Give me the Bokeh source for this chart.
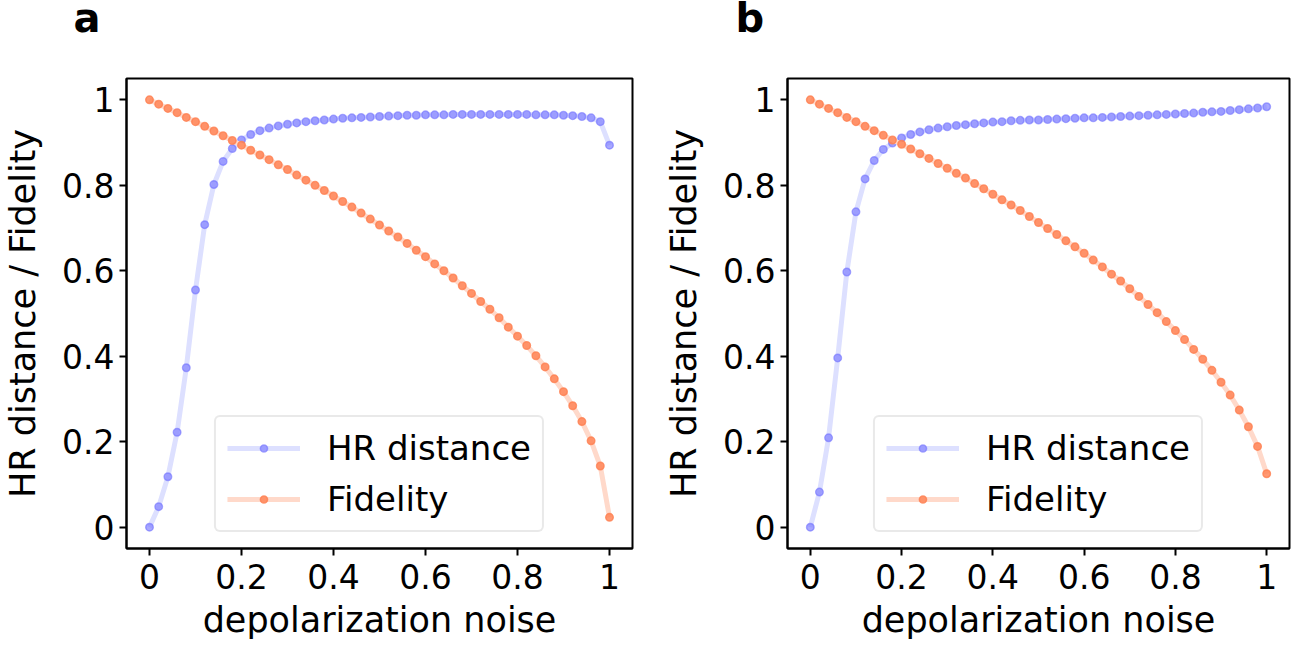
from bokeh.plotting import figure
from bokeh.layouts import row, column
from bokeh.models import FixedTicker, Legend, LegendItem, Range1d
from bokeh.core.properties import value
from bokeh.embed import file_html
from bokeh.resources import INLINE

noise = [0.00, 0.02, 0.04, 0.06, 0.08, 0.10, 0.12, 0.14, 0.16, 0.18,
         0.20, 0.22, 0.24, 0.26, 0.28, 0.30, 0.32, 0.34, 0.36, 0.38,
         0.40, 0.42, 0.44, 0.46, 0.48, 0.50, 0.52, 0.54, 0.56, 0.58,
         0.60, 0.62, 0.64, 0.66, 0.68, 0.70, 0.72, 0.74, 0.76, 0.78,
         0.80, 0.82, 0.84, 0.86, 0.88, 0.90, 0.92, 0.94, 0.96, 0.98, 1.00]

hr_a = [0.000, 0.048, 0.118, 0.222, 0.373, 0.555, 0.708, 0.802, 0.856, 0.886,
        0.906, 0.919, 0.928, 0.934, 0.939, 0.943, 0.946, 0.949, 0.951, 0.953,
        0.955, 0.957, 0.958, 0.959, 0.960, 0.961, 0.962, 0.963, 0.964, 0.964,
        0.965, 0.965, 0.965, 0.966, 0.966, 0.966, 0.966, 0.966, 0.966, 0.966,
        0.966, 0.966, 0.965, 0.965, 0.965, 0.964, 0.963, 0.961, 0.958, 0.949, 0.894]

fid_a = [1.000, 0.990, 0.980, 0.970, 0.959, 0.949, 0.938, 0.927, 0.916, 0.905,
         0.894, 0.882, 0.871, 0.860, 0.848, 0.837, 0.824, 0.812, 0.800, 0.788,
         0.775, 0.762, 0.749, 0.735, 0.721, 0.707, 0.693, 0.679, 0.664, 0.648,
         0.633, 0.616, 0.600, 0.583, 0.565, 0.547, 0.528, 0.510, 0.490, 0.468,
         0.447, 0.425, 0.401, 0.375, 0.347, 0.317, 0.284, 0.247, 0.202, 0.143, 0.023]

hr_b = [0.000, 0.082, 0.209, 0.396, 0.597, 0.738, 0.815, 0.858, 0.884, 0.899,
        0.911, 0.919, 0.925, 0.930, 0.934, 0.937, 0.940, 0.942, 0.944, 0.946,
        0.948, 0.949, 0.951, 0.952, 0.953, 0.953, 0.954, 0.955, 0.956, 0.957,
        0.958, 0.958, 0.959, 0.960, 0.961, 0.962, 0.963, 0.964, 0.965, 0.966,
        0.967, 0.968, 0.969, 0.971, 0.972, 0.973, 0.975, 0.977, 0.979, 0.981, 0.984]

fid_b = [1.000, 0.990, 0.980, 0.970, 0.959, 0.949, 0.938, 0.928, 0.917, 0.906,
         0.896, 0.885, 0.874, 0.863, 0.851, 0.840, 0.828, 0.817, 0.804, 0.792,
         0.779, 0.766, 0.754, 0.741, 0.727, 0.713, 0.699, 0.685, 0.670, 0.656,
         0.641, 0.625, 0.609, 0.592, 0.576, 0.558, 0.540, 0.521, 0.502, 0.481,
         0.460, 0.439, 0.416, 0.393, 0.367, 0.339, 0.309, 0.274, 0.235, 0.189, 0.125]

tick_values = [0, 0.2, 0.4, 0.6, 0.8, 1]
tick_labels = ["0", "0.2", "0.4", "0.6", "0.8", "1"]
series_names = ["HR distance", "Fidelity"]
panel_labels = ["a", "b"]
x_title = "depolarization noise"
y_title = "HR distance / Fidelity"

FONT = "DejaVu Sans"
TOP_H = 77


def make_letter(letter, width, lx):
    t = figure(width=width, height=TOP_H, output_backend="svg", toolbar_location=None,
               x_range=Range1d(0, width), y_range=Range1d(0, TOP_H),
               x_axis_type=None, y_axis_type=None, min_border=0)
    t.grid.visible = False
    t.outline_line_color = None
    t.background_fill_color = "white"
    t.border_fill_color = "white"
    t.text(x=[lx], y=[TOP_H - 17], text=[letter], text_font=value(FONT),
           text_font_size=value("40px"), text_font_style="bold", text_color="black",
           text_baseline="alphabetic", text_align="left")
    return t


def make_panel(hr, fid, width, left, right):
    p = figure(width=width, height=647 - TOP_H, output_backend="svg", toolbar_location=None,
               x_range=Range1d(-0.05, 1.05), y_range=Range1d(-0.05, 1.05),
               min_border_left=left, min_border_right=right,
               min_border_top=1, min_border_bottom=99)
    p.grid.visible = False
    p.background_fill_color = "white"
    p.border_fill_color = "white"
    p.outline_line_color = "black"
    p.outline_line_width = 2
    p.outline_line_alpha = 1

    for ax in (p.xaxis[0], p.yaxis[0]):
        ax.ticker = FixedTicker(ticks=tick_values)
        ax.major_label_overrides = dict(zip(tick_values, tick_labels))
        ax.major_label_text_font = FONT
        ax.major_label_text_font_size = "33px"
        ax.major_label_text_color = "black"
        ax.axis_label_text_font = FONT
        ax.axis_label_text_font_size = "35px"
        ax.axis_label_text_font_style = "normal"
        ax.axis_label_text_color = "black"
        ax.axis_line_color = "black"
        ax.axis_line_width = 2
        ax.major_tick_line_color = "black"
        ax.major_tick_line_width = 2
        ax.major_tick_out = 7
        ax.major_tick_in = 0
        ax.minor_tick_out = 0
        ax.minor_tick_in = 0
    p.xaxis.axis_label = x_title
    p.yaxis.axis_label = y_title
    p.xaxis.major_label_standoff = 8
    p.xaxis.axis_label_standoff = 8
    p.yaxis.major_label_standoff = 5
    p.yaxis.axis_label_standoff = 16

    l1 = p.line(noise, hr, line_color="#dde0ff", line_width=5)
    s1 = p.scatter(noise, hr, size=7.5, fill_color="#7575ff", fill_alpha=0.63,
                   line_color="#7575ff", line_alpha=0.63, line_width=1.5)
    l2 = p.line(noise, fid, line_color="#ffd9ca", line_width=5)
    s2 = p.scatter(noise, fid, size=7.5, fill_color="#ff7f50", fill_alpha=0.8,
                   line_color="#ff7f50", line_alpha=0.8, line_width=1.5)

    legend = Legend(items=[LegendItem(label=series_names[0], renderers=[l1, s1]),
                           LegendItem(label=series_names[1], renderers=[l2, s2])],
                    location="bottom_center", margin=16, padding=11, spacing=11,
                    glyph_width=73, glyph_height=18, label_height=40,
                    label_standoff=27, label_text_font=FONT,
                    label_text_font_size="34px", label_text_color="black",
                    border_line_color="#d4d4d4", border_line_width=2,
                    background_fill_color="white", background_fill_alpha=0.85)
    if "border_radius" in Legend.properties():
        legend.border_radius = 6
    p.add_layout(legend)
    return p


ta = make_letter(panel_labels[0], 645, 73)
tb = make_letter(panel_labels[1], 646, 90)
pa = make_panel(hr_a, fid_a, 645, 124, 13)
pb = make_panel(hr_b, fid_b, 646, 142, 2)
layout = column(row(ta, tb), row(pa, pb))

open("out.html", "w").write(file_html(layout, INLINE))
